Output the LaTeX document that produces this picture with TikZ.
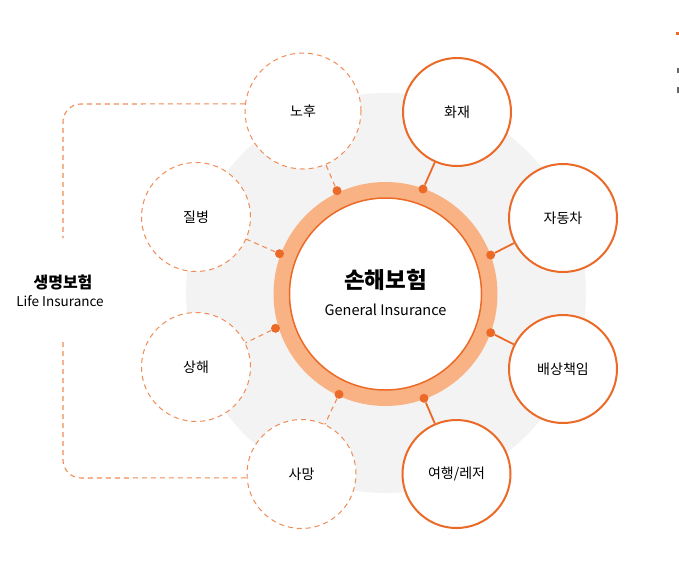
\documentclass[tikz,border=0pt]{standalone}
\usepackage{fontspec}
\setmainfont{Noto Sans CJK KR}
\definecolor{mainor}{HTML}{EC6A28}
\definecolor{ringor}{HTML}{F9B283}
\definecolor{dashor}{HTML}{F08C55}
\definecolor{bggray}{HTML}{F3F3F3}
\definecolor{markgray}{HTML}{666666}
\tikzset{
  solidsat/.style={circle, draw=mainor, line width=2pt, fill=white, minimum size=108pt, inner sep=0pt, font=\fontsize{14}{16}\selectfont},
  dashsat/.style={circle, draw=dashor, line width=1pt, dash pattern=on 5pt off 4pt, fill=white, minimum size=109pt, inner sep=0pt, font=\fontsize{14}{16}\selectfont},
  dotnode/.style={circle, fill=mainor, inner sep=0pt, minimum size=9pt},
  solidlink/.style={draw=mainor, line width=1.8pt},
  dashlink/.style={draw=dashor, line width=1.1pt, dash pattern=on 5pt off 4pt},
}
\begin{document}
\begin{tikzpicture}[x=1pt,y=-1pt]
\useasboundingbox (0,0) rectangle (679,574);
\fill[white] (0,0) rectangle (679,574);
\fill[bggray] (386,293) circle (200);
% ring
\draw[ringor, line width=16pt] (385.5,294) circle (104);
\node[circle, draw=mainor, line width=1.5pt, fill=white, minimum size=192pt, inner sep=0pt] (main) at (385.5,294) {};
\node[font=\bfseries\fontsize{22.5}{26}\selectfont] (maink) at (385.5,280) {손해보험};
\node[font=\fontsize{14.5}{17}\selectfont] (maine) at (385.5,310) {General Insurance};
% solid satellites
\node[solidsat] (hwajae) at (457,112) {화재};
\node[solidsat] (jadongcha) at (563,218) {자동차};
\node[solidsat] (baesang) at (563,369) {배상책임};
\node[solidsat] (yeohaeng) at (456.5,474) {여행/레저};
% dashed satellites
\node[dashsat, minimum size=116pt] (nohu) at (303,111) {노후};
\node[dashsat] (jilbyeong) at (196,217) {질병};
\node[dashsat] (sanghae) at (196,367) {상해};
\node[dashsat] (samang) at (301.5,474) {사망};
% dots
\node[dotnode] (d1) at (423,189) {};
\node[dotnode] (d2) at (490.7,255) {};
\node[dotnode] (d3) at (490.7,332.7) {};
\node[dotnode] (d4) at (424,398.3) {};
\node[dotnode] (d5) at (337,190.7) {};
\node[dotnode] (d6) at (279.5,253.7) {};
\node[dotnode] (d7) at (275.5,328.3) {};
\node[dotnode] (d8) at (339,394.3) {};
% links
\draw[solidlink] (d1) -- (hwajae);
\draw[solidlink] (d2) -- (jadongcha);
\draw[solidlink] (d3) -- (baesang);
\draw[solidlink] (d4) -- (yeohaeng);
\draw[dashlink] (d5) -- (nohu);
\draw[dashlink] (d6) -- (jilbyeong);
\draw[dashlink] (d7) -- (sanghae);
\draw[dashlink] (d8) -- (samang);
% bracket
\draw[dashlink, rounded corners=18pt] (nohu.173) -- (63,104) -- (63,238);
\draw[dashlink, rounded corners=18pt] (63,342) -- (63,478) -- (samang.184);
\node[font=\bfseries\fontsize{16}{19}\selectfont] (lifek) at (63,282) {생명보험};
\node[font=\fontsize{13.5}{16}\selectfont] (lifee) at (60,301.5) {Life Insurance};
% edge marks
\fill[mainor] (676,32) rectangle (679,35);
\fill[markgray] (677.3,67.7) rectangle (679,73.3);
\fill[markgray] (677.3,87.3) rectangle (679,93.3);
\end{tikzpicture}
\end{document}
